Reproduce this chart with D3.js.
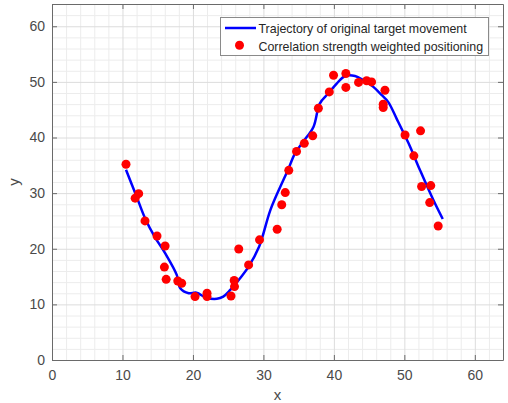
<!DOCTYPE html>
<html><head><meta charset="utf-8">
<script src="https://cdn.jsdelivr.net/npm/d3@7"></script>
<style>html,body{margin:0;padding:0;background:#fff;}svg{display:block;font-family:"Liberation Sans",Arial,sans-serif;}</style>
</head><body>
<script>
// Trajectory (original target movement)
const trajX = [10.5,12.0,13.2,14.6,16.05,17.7,18.2,19.4,20.5,21.9,23.4,24.3,25.3,26.5,27.9,29.4,31.0,32.85,33.5,34.5,35.65,37.1,38.0,39.2,40.4,41.6,43.0,44.2,45.6,46.8,47.7,48.9,50.6,52.2,54.1,55.45];
const trajY = [34.2,29.4,25.5,22.1,19.2,15.3,12.9,12.0,12.1,11.2,11.0,11.4,12.6,14.4,16.8,20.4,27.0,32.4,34.2,37.2,39.25,41.9,46.1,47.9,49.7,51.05,51.05,50.3,49.1,47.6,46.4,43.4,38.95,34.2,28.8,25.35];
// Correlation strength weighted positioning
const estX = [10.5,11.8,12.3,13.2,14.9,16.05,15.95,16.2,17.85,18.4,20.3,22.0,22.0,25.4,25.85,25.9,26.5,27.9,29.45,31.95,32.6,33.1,33.6,34.7,35.8,37.0,37.8,39.35,39.95,41.7,41.7,43.5,44.65,45.35,47.25,47.0,47.0,50.1,52.3,51.35,52.45,53.75,53.6,54.8];
const estY = [35.2,29.1,29.9,25.0,22.3,20.5,16.7,14.5,14.2,13.8,11.4,12.0,11.4,11.5,14.3,13.2,19.95,17.1,21.6,23.5,27.9,30.1,34.1,37.5,38.95,40.3,45.25,48.2,51.2,51.5,49.0,49.9,50.2,50.0,48.5,46.0,45.4,40.45,41.2,36.7,31.2,31.35,28.3,24.1];
const xTicks = [0,10,20,30,40,50,60];
const yTicks = [0,10,20,30,40,50,60];
const legendLabels = ["Trajectory of original target movement","Correlation strength weighted positioning"];

const W=508,H=403;
const L=52,R=503,T=4,B=360;
const svg=d3.select("body").append("svg").attr("width",W).attr("height",H);
const x=d3.scaleLinear().domain([0,64]).range([L,R]);
const y=d3.scaleLinear().domain([0,64]).range([B,T]);

// minor grid
const minor=d3.range(0,65,2).filter(v=>v%10!==0);
const g=svg.append("g");
g.selectAll(".mx").data(minor).join("line").attr("x1",d=>x(d)+0.5).attr("x2",d=>x(d)+0.5).attr("y1",T).attr("y2",B)
 .attr("stroke","#ececec").attr("stroke-width",1);
g.selectAll(".my").data(minor).join("line").attr("y1",d=>y(d)+0.5).attr("y2",d=>y(d)+0.5).attr("x1",L).attr("x2",R)
 .attr("stroke","#ececec").attr("stroke-width",1);
// major grid
g.selectAll(".Mx").data(xTicks).join("line").attr("x1",d=>x(d)+0.5).attr("x2",d=>x(d)+0.5).attr("y1",T).attr("y2",B)
 .attr("stroke","#dcdcdc").attr("stroke-width",1);
g.selectAll(".My").data(yTicks).join("line").attr("y1",d=>y(d)+0.5).attr("y2",d=>y(d)+0.5).attr("x1",L).attr("x2",R)
 .attr("stroke","#dcdcdc").attr("stroke-width",1);

// axes
const ax=svg.append("g").attr("transform",`translate(0,${B})`).call(d3.axisBottom(x).tickValues(xTicks).tickSizeInner(-5).tickSizeOuter(0).tickPadding(10));
const ay=svg.append("g").attr("transform",`translate(${L},0)`).call(d3.axisLeft(y).tickValues(yTicks).tickSizeInner(-5).tickSizeOuter(0).tickPadding(7));
const axT=svg.append("g").attr("transform",`translate(0,${T})`).call(d3.axisTop(x).tickValues(xTicks).tickSizeInner(-5).tickSizeOuter(0).tickFormat(""));
const ayR=svg.append("g").attr("transform",`translate(${R},0)`).call(d3.axisRight(y).tickValues(yTicks).tickSizeInner(-5).tickSizeOuter(0).tickFormat(""));
[ax,ay,axT,ayR].forEach(a=>{
  a.select(".domain").attr("stroke","#6a6a6a");
  a.selectAll(".tick line").attr("stroke","#6a6a6a");
  a.selectAll("text").attr("fill","#4a4a4a").style("font-size","14px").style("font-family","'Liberation Sans',Arial,sans-serif");
});

// line
const line=d3.line().x((d,i)=>x(trajX[i])).y((d,i)=>y(trajY[i])).curve(d3.curveCatmullRom.alpha(0.5));
svg.append("path").datum(trajX).attr("d",line).attr("fill","none").attr("stroke","#0000ff").attr("stroke-width",2.5).attr("stroke-linejoin","round");

// points
svg.selectAll(".pt").data(estX).join("circle").attr("cx",(d,i)=>x(estX[i])).attr("cy",(d,i)=>y(estY[i])).attr("r",4.5).attr("fill","#ff0000");

// axis labels
svg.append("text").attr("x",(L+R)/2).attr("y",400).attr("text-anchor","middle").attr("fill","#4a4a4a").style("font-size","15px").text("x");
svg.append("text").attr("transform",`translate(19,${(T+B)/2}) rotate(-90)`).attr("text-anchor","middle").attr("fill","#4a4a4a").style("font-size","15px").text("y");

// legend
const lg=svg.append("g");
lg.append("rect").attr("x",220.5).attr("y",17.5).attr("width",268).attr("height",38).attr("fill","#fff").attr("stroke","#8a8a8a");
lg.append("line").attr("x1",225).attr("x2",256).attr("y1",28).attr("y2",28).attr("stroke","#0000ff").attr("stroke-width",2.5);
lg.append("circle").attr("cx",239.5).attr("cy",45.3).attr("r",4.5).attr("fill","#ff0000");
lg.selectAll(".lt").data(legendLabels).join("text").attr("x",258.5).attr("y",(d,i)=>28.7+i*17.6).attr("dy","0.35em")
  .attr("fill","#262626").style("font-size","12.4px").text(d=>d);
</script>
</body></html>
